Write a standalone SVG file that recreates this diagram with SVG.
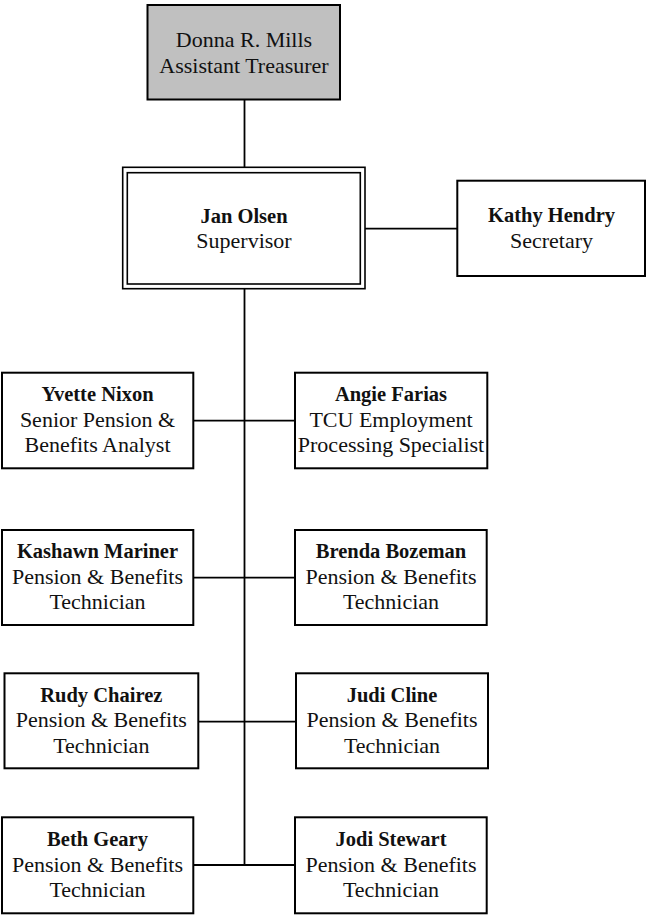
<svg xmlns="http://www.w3.org/2000/svg" width="649" height="916" viewBox="0 0 649 916">
<style>
  .box { fill: #fff; stroke: #000; stroke-width: 2; }
  .gray { fill: #c0c0c0; }
  .dbl { fill: none; stroke: #000; stroke-width: 1.6; }
  .t { font-family: "Liberation Serif", "DejaVu Serif", serif; font-size: 22px; fill: #111; text-anchor: middle; }
  .b { font-weight: bold; font-size: 20.5px; }
  .conn line { stroke: #000; stroke-width: 1.8; }
</style>
<rect width="649" height="916" fill="#fff"/>
<g id="connectors" class="conn">
  <line x1="244.5" y1="99.5" x2="244.5" y2="167.3"/>
  <line x1="244.5" y1="288.7" x2="244.5" y2="865"/>
  <line x1="365" y1="228.7" x2="457.3" y2="228.7"/>
  <line x1="193.3" y1="420.7" x2="295" y2="420.7"/>
  <line x1="193.3" y1="577.7" x2="295" y2="577.7"/>
  <line x1="198.3" y1="721.7" x2="296" y2="721.7"/>
  <line x1="193.3" y1="865" x2="295" y2="865"/>
</g>
<g id="donna">
  <rect class="box gray" x="147.5" y="5" width="192.5" height="94.5"/>
  <text class="t" x="244" y="46.5">Donna R. Mills</text>
  <text class="t" x="244" y="72.5">Assistant Treasurer</text>
</g>
<g id="jan">
  <rect class="dbl" x="122.7" y="167.3" width="242.3" height="121.4"/>
  <rect class="dbl" x="127.3" y="172.7" width="233" height="111.3"/>
  <text class="t b" x="244" y="222.5">Jan Olsen</text>
  <text class="t" x="244" y="248.3">Supervisor</text>
</g>
<g id="kathy">
  <rect class="box" x="457.3" y="180.7" width="187.7" height="95.3"/>
  <text class="t b" x="551.5" y="222.3">Kathy Hendry</text>
  <text class="t" x="551.5" y="248.3">Secretary</text>
</g>
<g id="yvette">
  <rect class="box" x="2" y="372.7" width="191.3" height="95.6"/>
  <text class="t b" x="97.5" y="401">Yvette Nixon</text>
  <text class="t" x="97.5" y="426.7">Senior Pension &amp;</text>
  <text class="t" x="97.5" y="452">Benefits Analyst</text>
</g>
<g id="angie">
  <rect class="box" x="295" y="372.7" width="192.3" height="95.6"/>
  <text class="t b" x="391" y="401">Angie Farias</text>
  <text class="t" x="391" y="426.7">TCU Employment</text>
  <text class="t" x="391" y="452">Processing Specialist</text>
</g>
<g id="kashawn">
  <rect class="box" x="2" y="530" width="191.3" height="95"/>
  <text class="t b" x="97.5" y="558.3">Kashawn Mariner</text>
  <text class="t" x="97.5" y="584">Pension &amp; Benefits</text>
  <text class="t" x="97.5" y="609.3">Technician</text>
</g>
<g id="brenda">
  <rect class="box" x="295" y="530" width="191.7" height="95"/>
  <text class="t b" x="391" y="558.3">Brenda Bozeman</text>
  <text class="t" x="391" y="584">Pension &amp; Benefits</text>
  <text class="t" x="391" y="609.3">Technician</text>
</g>
<g id="rudy">
  <rect class="box" x="4.5" y="673.3" width="193.8" height="95"/>
  <text class="t b" x="101.3" y="701.5">Rudy Chairez</text>
  <text class="t" x="101.3" y="727.2">Pension &amp; Benefits</text>
  <text class="t" x="101.3" y="752.5">Technician</text>
</g>
<g id="judi">
  <rect class="box" x="296" y="673.3" width="192" height="95"/>
  <text class="t b" x="392" y="701.5">Judi Cline</text>
  <text class="t" x="392" y="727.2">Pension &amp; Benefits</text>
  <text class="t" x="392" y="752.5">Technician</text>
</g>
<g id="beth">
  <rect class="box" x="2" y="817.3" width="191.3" height="96"/>
  <text class="t b" x="97.5" y="846">Beth Geary</text>
  <text class="t" x="97.5" y="871.7">Pension &amp; Benefits</text>
  <text class="t" x="97.5" y="897">Technician</text>
</g>
<g id="jodi">
  <rect class="box" x="295" y="817.3" width="191.7" height="96"/>
  <text class="t b" x="391" y="846">Jodi Stewart</text>
  <text class="t" x="391" y="871.7">Pension &amp; Benefits</text>
  <text class="t" x="391" y="897">Technician</text>
</g>
</svg>
